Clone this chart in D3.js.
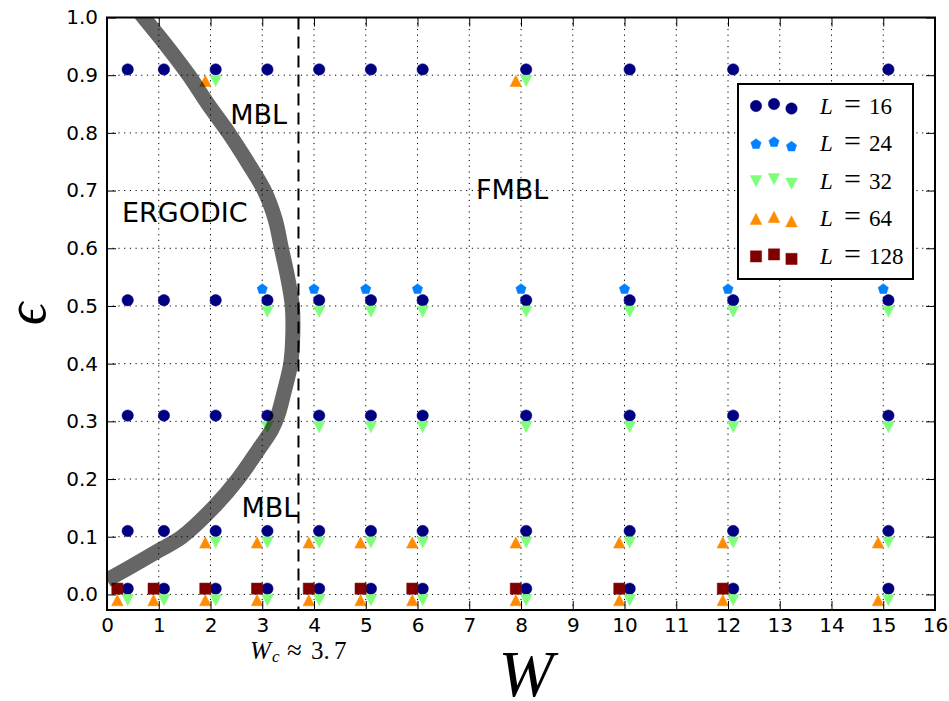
<!DOCTYPE html>
<html>
<head>
<meta charset="utf-8">
<script src="https://cdn.jsdelivr.net/npm/d3@7"></script>
<style>
body { margin: 0; background: #fff; }
svg text { font-family: "DejaVu Sans", sans-serif; }
.serif { font-family: "Liberation Serif", "DejaVu Serif", serif; }
</style>
</head>
<body>
<svg id="chart" width="949" height="701"></svg>
<script>
// W values used in the runs
var W_all   = [0.3, 1, 2, 3, 4, 5, 6, 8, 10, 12, 15];
var W_from2 = [2, 3, 4, 5, 6, 8, 10, 12, 15];
var W_from3 = [3, 4, 5, 6, 8, 10, 12, 15];
var W_top   = [2, 8];
var W_sq    = [0.3, 1, 2, 3, 4, 5, 6, 8, 10, 12];

// each series = rows of [eps, W list]
var L16  = [[0.9, W_all], [0.5, W_all], [0.3, W_all], [0.1, W_all], [0.0, W_all]];
var L24  = [[0.5, W_from3]];
var L32  = [[0.9, W_top], [0.5, W_from3], [0.3, W_from3], [0.1, W_from2], [0.0, W_all]];
var L64  = [[0.9, W_top], [0.1, W_from2], [0.0, W_all]];
var L128 = [[0.0, W_sq]];

var sizes = [16, 24, 32, 64, 128];

// phase boundary (thick grey line)
var boundaryW   = [0, 0.4, 1.0, 1.45, 2.05, 2.53, 2.92, 3.18, 3.3, 3.42, 3.55, 3.59, 3.58, 3.49, 3.37, 3.25, 3.04, 2.71, 2.35, 1.95, 1.58, 1.16, 0.71, 0.35];
var boundaryEps = [0.025, 0.045, 0.076, 0.1, 0.15, 0.2, 0.25, 0.285, 0.31, 0.35, 0.4, 0.45, 0.5, 0.55, 0.6, 0.65, 0.7, 0.75, 0.8, 0.85, 0.9, 0.95, 1.0, 1.04];

var Wc = 3.7;
var xTicks = d3.range(0, 17);
var yTicks = [0.0, 0.1, 0.2, 0.3, 0.4, 0.5, 0.6, 0.7, 0.8, 0.9, 1.0];

var margin = {left: 107, right: 935, top: 17.5, bottom: 610};

var svg = d3.select('#chart');

var x = d3.scaleLinear().domain([0, 16]).range([margin.left, margin.right]);
var y = d3.scaleLinear().domain([-0.027, 1.0]).range([margin.bottom, margin.top]);

// marker shapes
function poly(pts) {
  return 'M' + pts.map(p => p[0].toFixed(2) + ',' + p[1].toFixed(2)).join('L') + 'Z';
}
var shapes = {
  circle: () => d3.symbol().type(d3.symbolCircle).size(Math.PI * 5.7 * 5.7)(),
  pentagon: () => poly(d3.range(5).map(i => {
      var a = -Math.PI / 2 + i * 2 * Math.PI / 5;
      return [5.4 * Math.cos(a), 5.4 * Math.sin(a) + 0.5];
    })),
  tdown: () => poly([[-5.8, -5.6], [5.8, -5.6], [0, 5.6]]),
  tup: () => poly([[-5.8, 5.6], [5.8, 5.6], [0, -5.6]]),
  square: () => poly([[-5.6, -5.6], [5.6, -5.6], [5.6, 5.6], [-5.6, 5.6]])
};

var series = [
  {L: 16,  rows: L16,  color: '#000080', shape: 'circle',   dW: 0.1,  dE: 0.01},
  {L: 24,  rows: L24,  color: '#0080ff', shape: 'pentagon', dW: 0.0,  dE: 0.03},
  {L: 32,  rows: L32,  color: '#7dff7a', shape: 'tdown',    dW: 0.1,  dE: -0.01},
  {L: 64,  rows: L64,  color: '#ff8c00', shape: 'tup',      dW: -0.1, dE: -0.01},
  {L: 128, rows: L128, color: '#800000', shape: 'square',   dW: -0.1, dE: 0.01}
];

// clip
svg.append('clipPath').attr('id', 'clip')
  .append('rect')
  .attr('x', margin.left).attr('y', margin.top)
  .attr('width', margin.right - margin.left).attr('height', margin.bottom - margin.top);

// grid
var grid = svg.append('g').attr('stroke', '#000').attr('stroke-width', 1).attr('stroke-dasharray', '1.2,4.5');
grid.selectAll('.gx').data(xTicks.slice(1, -1)).enter().append('line')
  .attr('x1', d => x(d)).attr('x2', d => x(d))
  .attr('y1', margin.top).attr('y2', margin.bottom);
grid.selectAll('.gy').data(yTicks).enter().append('line')
  .attr('x1', margin.left).attr('x2', margin.right)
  .attr('y1', d => y(d)).attr('y2', d => y(d));

// points
series.forEach(s => {
  var pts = [];
  s.rows.forEach(r => r[1].forEach(w => pts.push({w: w, e: r[0]})));
  svg.append('g').selectAll('path').data(pts).enter().append('path')
    .attr('d', shapes[s.shape]())
    .attr('transform', d => 'translate(' + x(d.w + s.dW) + ',' + y(d.e + s.dE) + ')')
    .attr('fill', s.color)
    .attr('stroke', s.color)
    .attr('stroke-width', 0.5);
});

// phase boundary
var bnd = boundaryW.map((w, i) => [w, boundaryEps[i]]);
svg.append('path')
  .datum(bnd)
  .attr('clip-path', 'url(#clip)')
  .attr('d', d3.line().x(d => x(d[0])).y(d => y(d[1])).curve(d3.curveCatmullRom.alpha(0.5)))
  .attr('fill', 'none')
  .attr('stroke', '#000')
  .attr('stroke-opacity', 0.6)
  .attr('stroke-width', 15);

// W_c dashed line
svg.append('line')
  .attr('x1', x(Wc)).attr('x2', x(Wc))
  .attr('y1', margin.top).attr('y2', margin.bottom)
  .attr('stroke', '#000').attr('stroke-width', 2)
  .attr('stroke-dasharray', '12,7');

// axes (ticks pointing in, on all sides)
var ax = svg.append('g');
ax.append('g').attr('transform', 'translate(0,' + margin.bottom + ')')
  .call(d3.axisBottom(x).tickValues(xTicks).tickFormat(d3.format('d')).tickSizeInner(-9).tickSizeOuter(0).tickPadding(8));
ax.append('g').attr('transform', 'translate(0,' + margin.top + ')')
  .call(d3.axisTop(x).tickValues(xTicks).tickFormat('').tickSizeInner(-9).tickSizeOuter(0));
ax.append('g').attr('transform', 'translate(' + margin.left + ',0)')
  .call(d3.axisLeft(y).tickValues(yTicks).tickFormat(d3.format('.1f')).tickSizeInner(-9).tickSizeOuter(0).tickPadding(9));
ax.append('g').attr('transform', 'translate(' + margin.right + ',0)')
  .call(d3.axisRight(y).tickValues(yTicks).tickFormat('').tickSizeInner(-9).tickSizeOuter(0));
ax.selectAll('.domain').remove();
ax.selectAll('.tick line').attr('stroke', '#000').attr('stroke-width', 1);
ax.selectAll('.tick text').attr('fill', '#000').style('font-size', '20px').style('font-family', '"DejaVu Sans", sans-serif');

// frame
svg.append('rect')
  .attr('x', margin.left).attr('y', margin.top)
  .attr('width', margin.right - margin.left).attr('height', margin.bottom - margin.top)
  .attr('fill', 'none').attr('stroke', '#000').attr('stroke-width', 2);

// region labels
var regions = [
  {t: 'MBL', w: 2.38, e: 0.815},
  {t: 'ERGODIC', w: 0.29, e: 0.645},
  {t: 'FMBL', w: 7.13, e: 0.685},
  {t: 'MBL', w: 2.6, e: 0.135}
];
svg.selectAll('.region').data(regions).enter().append('text')
  .attr('x', d => x(d.w)).attr('y', d => y(d.e))
  .style('font-size', '27px').attr('fill', '#000')
  .text(d => d.t);

// W_c label
var wc = svg.append('text').attr('class', 'serif').attr('x', 250).attr('y', 659).style('font-size', '25px');
wc.append('tspan').style('font-style', 'italic').text('W');
wc.append('tspan').attr('x', 272).attr('dy', 3).style('font-size', '17px').style('font-style', 'italic').text('c');
wc.append('tspan').attr('x', 287).attr('dy', -3).style('font-size', '27px').text('\u2248');
wc.append('tspan').attr('x', 311).text('3.');
wc.append('tspan').attr('x', 334).text('7');

// axis labels
svg.append('text').attr('class', 'serif')
  .attr('x', 526).attr('y', 696).attr('text-anchor', 'middle')
  .style('font-size', '66px').style('font-style', 'italic')
  .text('W');
svg.append('text').attr('class', 'serif')
  .attr('transform', 'translate(45,314) rotate(-90)')
  .attr('text-anchor', 'middle')
  .style('font-size', '56px').style('font-style', 'italic')
  .text('\u03f5');

// legend
var lg = svg.append('g');
lg.append('rect').attr('x', 738).attr('y', 84).attr('width', 175).attr('height', 195)
  .attr('fill', '#fff').attr('stroke', '#000').attr('stroke-width', 2);
var jitterX = [756, 774, 791.5];
var jitterY = [0, -2, 2.5];
series.forEach((s, i) => {
  var cy = 106 + i * 37.6;
  jitterX.forEach((jx, k) => {
    lg.append('path').attr('d', shapes[s.shape]())
      .attr('transform', 'translate(' + jx + ',' + (cy + jitterY[k]) + ')')
      .attr('fill', s.color).attr('stroke', s.color).attr('stroke-width', 0.5);
  });
  var t = lg.append('text').attr('class', 'serif')
    .attr('x', 820).attr('y', cy + 7.5).style('font-size', '23px');
  t.append('tspan').style('font-style', 'italic').text('L');
  t.append('tspan').attr('x', 844).style('font-size', '30px').text('=');
  t.append('tspan').attr('x', 869).text(sizes[i]);
});
</script>
</body>
</html>
